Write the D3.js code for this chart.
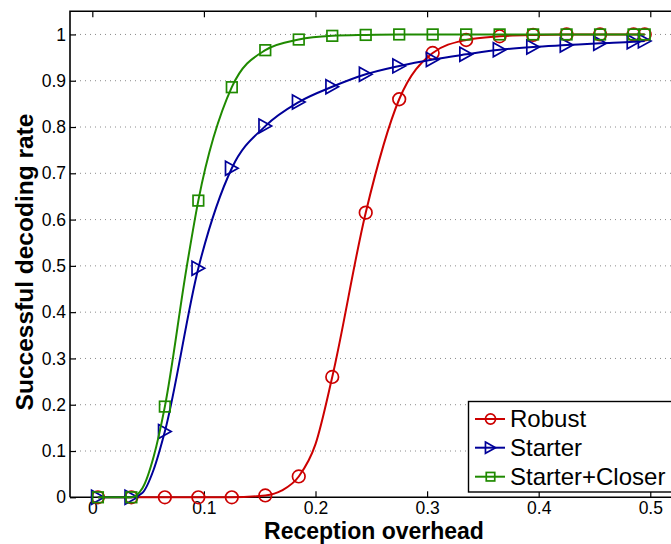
<!DOCTYPE html>
<html><head><meta charset="utf-8">
<script src="https://cdn.jsdelivr.net/npm/d3@7"></script>
<style>
body{margin:0;background:#fff}
svg{display:block}
text{font-family:"Liberation Sans",Arial,Helvetica,sans-serif;fill:#000}
</style>
</head><body>
<svg id="c" width="671" height="544"></svg>
<script>
// ---- data ----
const overhead = [0.005,0.035,0.065,0.095,0.125,0.155,0.185,0.215,0.245,0.275,0.305,0.335,0.365,0.395,0.425,0.455,0.485,0.495];
const robust        = [0,0,0,0,0,0.004,0.045,0.26,0.615,0.86,0.96,0.988,0.996,0.999,1,1,1,1];
const starter       = [0,0,0.142,0.495,0.711,0.802,0.854,0.887,0.914,0.932,0.946,0.957,0.967,0.973,0.977,0.981,0.984,0.986];
const starterCloser = [0,0,0.196,0.641,0.886,0.966,0.989,0.997,0.999,1,1,1,1,1,1,1,1,1];
// extra points along the curves (between markers)
const robustExtraX = [0.17,0.2];
const robustExtraY = [0.015,0.115];
const starterExtraX = [0.045,0.055];
const starterExtraY = [0.01,0.06];
const closerExtraX = [0.045,0.055,0.0846];
const closerExtraY = [0.02,0.088,0.498];
const seriesNames = ["Robust","Starter","Starter+Closer"];
const xTicks = [0,0.1,0.2,0.3,0.4,0.5];
const xTickLabels = ["0","0.1","0.2","0.3","0.4","0.5"];
const yTicks = [0,0.1,0.2,0.3,0.4,0.5,0.6,0.7,0.8,0.9,1];
const yTickLabels = ["0","0.1","0.2","0.3","0.4","0.5","0.6","0.7","0.8","0.9","1"];
const xTitle = "Reception overhead";
const yTitle = "Successful decoding rate";

// ---- layout ----
const colors = ["#cc0000","#000099","#1f8a00"];
const markers = ["circle","triangle","square"];
const L = 70, R = 672.6, T = 11.3, B = 497.3;
const svg = d3.select("#c");
const x = d3.scaleLinear().domain([-0.02,0.52]).range([L,R]);
const y = d3.scaleLinear().domain([0,1.05]).range([B,T]);

// grid
svg.append("g").selectAll("line").data(yTicks.filter(d=>d>0)).join("line")
  .attr("x1",L).attr("x2",R).attr("y1",d=>y(d)).attr("y2",d=>y(d))
  .attr("stroke","#8a8a8a").attr("stroke-width",1).attr("stroke-dasharray","1,4");

// axes
const fmtX = (d,i)=>xTickLabels[i];
const fmtY = (d,i)=>yTickLabels[i];
const gx = svg.append("g").attr("transform",`translate(0,${B})`)
  .call(d3.axisBottom(x).tickValues(xTicks).tickFormat(fmtX).tickSizeInner(-6).tickSizeOuter(0).tickPadding(4.5));
const gxt = svg.append("g").attr("transform",`translate(0,${T})`)
  .call(d3.axisTop(x).tickValues(xTicks).tickFormat("").tickSizeInner(-6).tickSizeOuter(0));
const gy = svg.append("g").attr("transform",`translate(${L},0)`)
  .call(d3.axisLeft(y).tickValues(yTicks).tickFormat(fmtY).tickSizeInner(-6).tickSizeOuter(0).tickPadding(4));
[gx,gxt,gy].forEach(g=>{
  g.select(".domain").remove();
  g.selectAll(".tick line").attr("stroke","#000").attr("stroke-width",1.2);
  g.selectAll(".tick text").attr("font-size",17.5).attr("font-family","'Liberation Sans',Arial,sans-serif").attr("fill","#111");
});
// frame
svg.append("path").attr("d",`M${L},${B}V${T}H${R}M${L},${B}H${R}`)
  .attr("fill","none").attr("stroke","#000").attr("stroke-width",1.6);

// markers
function drawMarker(g, type, cx, cy, color, s){
  if(type==="circle"){
    g.append("circle").attr("cx",cx).attr("cy",cy).attr("r",6.3*s)
      .attr("fill","none").attr("stroke",color).attr("stroke-width",1.7);
  } else if(type==="square"){
    const h=5.3*s;
    g.append("rect").attr("x",cx-h).attr("y",cy-h).attr("width",2*h).attr("height",2*h)
      .attr("fill","none").attr("stroke",color).attr("stroke-width",1.7);
  } else {
    const w=6.3*s, hh=7*s;
    g.append("path").attr("d",`M${cx-w},${cy-hh}L${cx+w},${cy}L${cx-w},${cy+hh}Z`)
      .attr("fill","none").attr("stroke",color).attr("stroke-width",1.7).attr("stroke-linejoin","miter");
  }
}

const seriesVals = [robust, starter, starterCloser];
const extraX = [robustExtraX, starterExtraX, closerExtraX];
const extraY = [robustExtraY, starterExtraY, closerExtraY];
const line = d3.line().x(d=>x(d[0])).y(d=>y(d[1])).curve(d3.curveMonotoneX);

seriesVals.forEach((vals,i)=>{
  const pts = overhead.map((o,j)=>[o,vals[j]])
    .concat(extraX[i].map((o,j)=>[o,extraY[i][j]]))
    .sort((a,b)=>a[0]-b[0]);
  const g = svg.append("g");
  g.append("path").datum(pts).attr("d",line).attr("fill","none")
    .attr("stroke",colors[i]).attr("stroke-width",2);
  overhead.forEach((o,j)=>drawMarker(g, markers[i], x(o), y(vals[j]), colors[i], 1));
});

// legend
const lg = svg.append("g");
lg.append("rect").attr("x",468.5).attr("y",401.5).attr("width",230).attr("height",90.5)
  .attr("fill","#fff").attr("stroke","#000").attr("stroke-width",1.4);
const rowY = [419,447.7,476.7];
seriesNames.forEach((n,i)=>{
  lg.append("line").attr("x1",475).attr("x2",505).attr("y1",rowY[i]).attr("y2",rowY[i])
    .attr("stroke",colors[i]).attr("stroke-width",2);
  drawMarker(lg, markers[i], 490.5, rowY[i], colors[i], 0.8);
  lg.append("text").attr("x",510).attr("y",rowY[i]).attr("dy","0.35em")
    .attr("font-size",24).text(n);
});

// titles
svg.append("text").attr("x",374).attr("y",539).attr("text-anchor","middle")
  .attr("font-size",23).attr("font-weight","bold").text(xTitle);
svg.append("text").attr("transform","translate(33,262) rotate(-90)").attr("text-anchor","middle")
  .attr("font-size",24.5).attr("font-weight","bold").text(yTitle);
</script>
</body></html>
